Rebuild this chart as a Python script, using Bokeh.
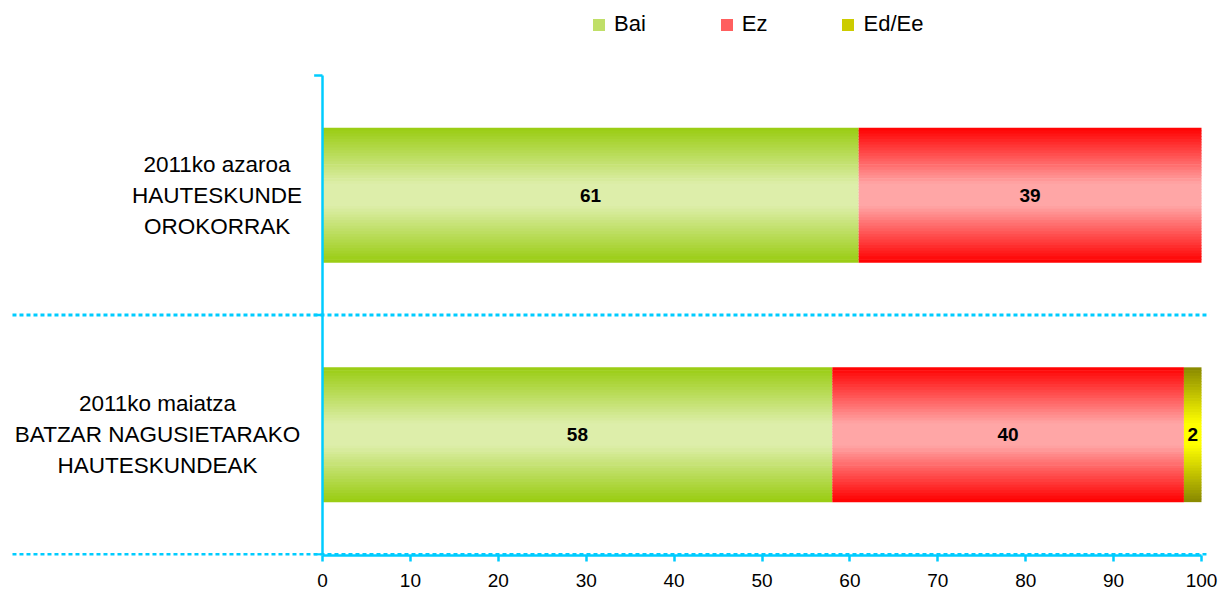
from bokeh.plotting import figure
from bokeh.models import Range1d, FixedTicker, ColumnDataSource, Legend, LegendItem
from bokeh.core.properties import value
from bokeh.embed import file_html
from bokeh.resources import INLINE

# ---------------- data ----------------
categories = ["2011ko azaroa\nHAUTESKUNDE\nOROKORRAK",
              "2011ko maiatza\nBATZAR NAGUSIETARAKO\nHAUTESKUNDEAK"]
series_names = ["Bai", "Ez", "Ed/Ee"]
bai = [61, 58]
ez = [39, 40]
edee = [0, 2]
x_ticks = [0, 10, 20, 30, 40, 50, 60, 70, 80, 90, 100]

series_values = [bai, ez, edee]

# ---------------- styles ----------------
FONT = "Liberation Sans"
AXIS_COLOR = "#00CCFF"
edge_colors = [(153, 204, 17), (255, 0, 0), (136, 136, 0)]
center_colors = [(221, 238, 170), (255, 166, 166), (255, 255, 0)]
label_x = [-12.0, -18.77]     # centres of the category text blocks (data units)
bar_height = 0.56
N_STRIPS = 48
LEGEND_STRIP = 11
tick_len = 0.95

W, H = 1221, 592
x_start, x_end = -36.633, 102.275
y_start, y_end = -0.0042, 2.3131


def mix(c1, c2, f):
    r = [round(a + (b - a) * f) for a, b in zip(c1, c2)]
    return "#%02x%02x%02x" % tuple(r)


def grad_color(edge, center, t):
    d = abs(t - 0.5) * 2.0
    f = min(max((d - 0.16) / 0.84, 0.0), 1.0)
    return mix(center, edge, f)


p = figure(width=W, height=H, output_backend="svg", toolbar_location=None,
           x_range=Range1d(x_start, x_end), y_range=Range1d(y_start, y_end),
           y_axis_location=None,
           min_border_left=0, min_border_right=0, min_border_top=0,
           min_border_bottom=37)
p.outline_line_color = None
p.xgrid.visible = False
p.ygrid.visible = False
p.background_fill_color = "white"

ncat = len(categories)
cat_y = [ncat - i - 0.5 for i in range(ncat)]

# dotted separators at category boundaries
bounds_y = list(range(ncat))
p.segment(x0=[-35.27] * len(bounds_y), x1=[100.91] * len(bounds_y),
          y0=bounds_y, y1=bounds_y, line_color=AXIS_COLOR, line_width=3,
          line_dash="4 3")

# gradient bars built from thin strips
bar_renderers = []
cum = [0.0] * ncat
for s, vals in enumerate(series_values):
    lefts, rights, ys, hs, cols = [], [], [], [], []
    for c, v in enumerate(vals):
        if v <= 0:
            continue
        for j in range(N_STRIPS):
            t = (j + 0.5) / N_STRIPS
            lefts.append(cum[c])
            rights.append(cum[c] + v)
            ys.append(cat_y[c] + bar_height / 2 - t * bar_height)
            hs.append(bar_height / N_STRIPS * 1.25)
            cols.append(grad_color(edge_colors[s], center_colors[s], t))
    src = ColumnDataSource(dict(left=lefts, right=rights, y=ys, h=hs, color=cols))
    r = p.hbar(y="y", left="left", right="right", height="h", source=src,
               fill_color="color", line_color=None)
    bar_renderers.append(r)
    cum = [a + b for a, b in zip(cum, vals)]

# value labels
lx, ly, lt = [], [], []
cum = [0.0] * ncat
for vals in series_values:
    for c, v in enumerate(vals):
        if v > 0:
            lx.append(cum[c] + v / 2)
            ly.append(cat_y[c])
            lt.append(str(v))
    cum = [a + b for a, b in zip(cum, vals)]
p.text(x=lx, y=ly, text=lt, text_font=value(FONT), text_font_size="19px",
       text_font_style="bold", text_color="black", text_align="center",
       text_baseline="middle")

# category labels
p.text(x=label_x, y=cat_y, text=categories, text_font=value(FONT),
       text_font_size="22.5px", text_color="black", text_align="center",
       text_baseline="middle", text_line_height=1.24)

# value axis line at 0 with category boundary ticks
p.segment(x0=[0], x1=[0], y0=[0], y1=[ncat], line_color=AXIS_COLOR, line_width=2.5)
tk = list(range(ncat + 1))
p.segment(x0=[-tick_len] * len(tk), x1=[0] * len(tk), y0=tk, y1=tk,
          line_color=AXIS_COLOR, line_width=2.5)

# x axis
xa = p.xaxis[0]
xa.ticker = FixedTicker(ticks=x_ticks)
xa.bounds = (0, 100)
xa.axis_line_color = AXIS_COLOR
xa.axis_line_width = 2.5
xa.major_tick_line_color = AXIS_COLOR
xa.major_tick_line_width = 2.5
xa.major_tick_in = 0
xa.major_tick_out = 6
xa.minor_tick_line_color = None
xa.major_label_text_font = FONT
xa.major_label_text_font_size = "19px"
xa.major_label_text_color = "black"
xa.major_label_standoff = 12

# legend (glyph colour taken from one strip of each series)
items = [LegendItem(label=name, renderers=[r], index=LEGEND_STRIP)
         for name, r in zip(series_names, bar_renderers)]
legend = Legend(items=items, orientation="horizontal", location=(591, 518),
                glyph_width=15, glyph_height=15, label_standoff=8, spacing=73,
                padding=0, margin=0, border_line_color=None,
                background_fill_alpha=0, label_text_font=FONT,
                label_text_font_size="22px", label_text_color="black")
p.add_layout(legend)

open("out.html", "w").write(file_html(p, INLINE))
